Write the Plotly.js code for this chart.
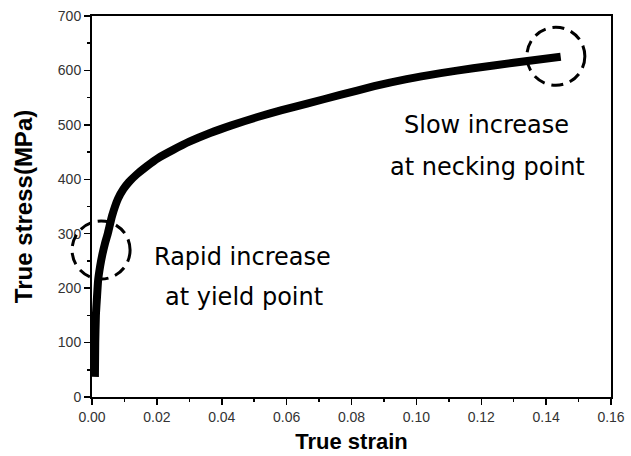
<!DOCTYPE html>
<html>
<head>
<meta charset="utf-8">
<script src="https://cdn.plot.ly/plotly-3.0.1.min.js"></script>
<style>html,body{margin:0;padding:0;background:#fff;}#chart{width:631px;height:456px;}</style>
</head>
<body>
<div id="chart"></div>
<script>
// Data (true strain vs true stress, MPa)
const trueStrain = [0.0009, 0.0010, 0.0012, 0.0015, 0.0019, 0.0025, 0.0032, 0.0040, 0.0049, 0.0062, 0.0080, 0.0097, 0.0114, 0.0138, 0.0169, 0.0204, 0.0250, 0.0300, 0.0364, 0.0430, 0.0508, 0.0585, 0.0663, 0.0765, 0.0870, 0.0970, 0.1075, 0.1175, 0.1300, 0.1445];
const trueStress = [37, 100, 150, 180, 215, 240, 262, 282, 301, 333, 364, 382, 395, 409, 424, 439, 454, 469, 485, 499, 514, 527, 539, 555, 571, 584, 595, 604, 614, 625];

// Highlighted regions (dashed circles) – centre in data units
const circleStrain = [0.0028, 0.143];
const circleStress = [270, 626];

// Annotation texts and their positions
const noteLines = ["Rapid increase", "at yield point", "Slow increase", "at necking point"];
const noteStrain = [0.0465, 0.0470, 0.1215, 0.1218];
const noteStress = [257, 184, 500, 423];

const xRange = [0, 0.16];
const yRange = [0, 700];

const trace = {
  x: trueStrain, y: trueStress, mode: 'lines', type: 'scatter',
  line: {color: '#000', width: 8, shape: 'spline', smoothing: 0.5},
  hoverinfo: 'skip', showlegend: false
};

const circlePx = 29;
const shapes = circleStrain.map((cx, i) => ({
  type: 'circle', xref: 'x domain', yref: 'y domain',
  xsizemode: 'pixel', ysizemode: 'pixel',
  xanchor: (cx - xRange[0]) / (xRange[1] - xRange[0]),
  yanchor: (circleStress[i] - yRange[0]) / (yRange[1] - yRange[0]),
  x0: -circlePx, x1: circlePx, y0: -circlePx, y1: circlePx,
  line: {color: '#000', width: 3, dash: '12px,7px'}
}));

const annotations = noteLines.map((t, i) => ({
  text: t, x: noteStrain[i], y: noteStress[i], xref: 'x', yref: 'y',
  showarrow: false, xanchor: 'center', yanchor: 'middle',
  font: {family: 'DejaVu Sans', size: 24, color: '#000'}
}));

const tickFont = {family: 'Liberation Sans, Arial', size: 14, color: '#333'};
const xTitleFont = {family: 'Liberation Sans, Arial', size: 22, color: '#000', weight: 'bold'};
const yTitleFont = {family: 'Liberation Sans, Arial', size: 24, color: '#000', weight: 'bold'};

const layout = {
  width: 631, height: 456,
  margin: {l: 92, r: 20, t: 16, b: 59},
  paper_bgcolor: '#fff', plot_bgcolor: '#fff',
  showlegend: false,
  xaxis: {
    range: xRange, dtick: 0.02, tick0: 0, tickformat: '.2f',
    ticks: 'outside', ticklen: 6, tickwidth: 1.5, tickcolor: '#000',
    minor: {dtick: 0.01, ticks: 'outside', ticklen: 3, tickwidth: 1.5, tickcolor: '#000'},
    showline: true, linecolor: '#000', linewidth: 2, mirror: true,
    showgrid: false, zeroline: false, tickfont: tickFont,
    title: {text: 'True strain', font: xTitleFont, standoff: 10}
  },
  yaxis: {
    range: yRange, dtick: 100, tick0: 0,
    ticks: 'outside', ticklen: 6, tickwidth: 1.5, tickcolor: '#000',
    minor: {dtick: 50, ticks: 'outside', ticklen: 3, tickwidth: 1.5, tickcolor: '#000'},
    showline: true, linecolor: '#000', linewidth: 2, mirror: true,
    showgrid: false, zeroline: false, tickfont: tickFont,
    title: {text: 'True stress(MPa)', font: yTitleFont, standoff: 18}
  },
  xaxis2: {
    range: xRange, overlaying: 'x', side: 'top', anchor: 'y',
    dtick: 0.01, tick0: 0, ticks: 'inside', ticklen: 6, tickwidth: 1.5, tickcolor: '#000',
    showticklabels: false, showgrid: false, zeroline: false, showline: false
  },
  yaxis2: {
    range: yRange, overlaying: 'y', side: 'right', anchor: 'x',
    dtick: 50, tick0: 0, ticks: 'inside', ticklen: 5, tickwidth: 1.5, tickcolor: '#000',
    showticklabels: false, showgrid: false, zeroline: false, showline: false
  },
  shapes: shapes,
  annotations: annotations
};

Plotly.newPlot('chart', [trace], layout, {staticPlot: true, displayModeBar: false});
</script>
</body>
</html>
